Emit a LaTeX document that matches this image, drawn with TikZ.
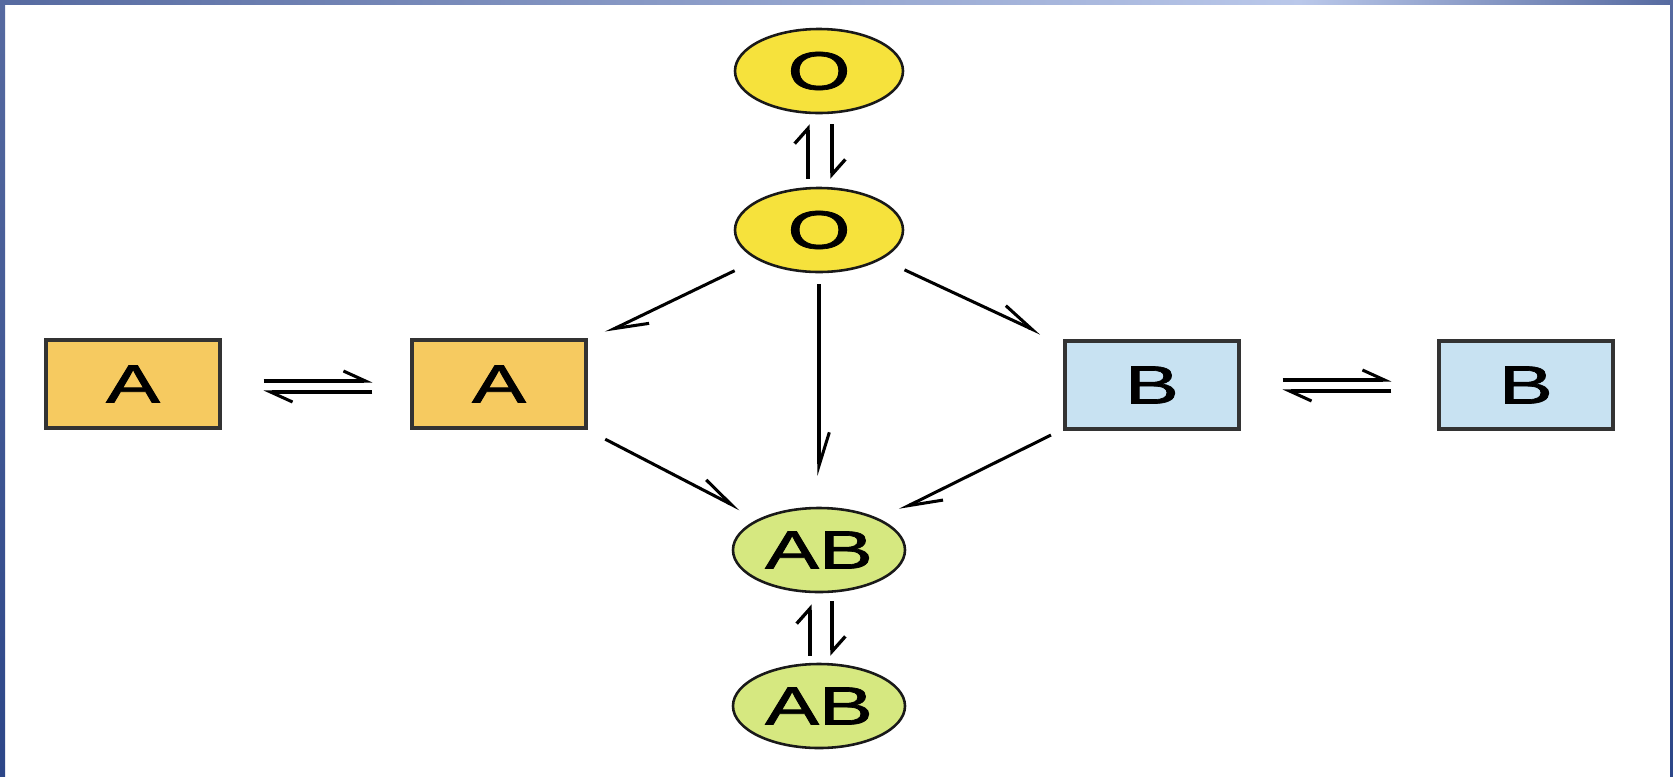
\documentclass[tikz,border=0pt]{standalone}
\usepackage{fontspec}
\setmainfont{Liberation Sans}
\newfontfamily\lblfont{Liberation Sans}[FakeBold=1.2]
\usepackage{graphicx}
\usetikzlibrary{shapes.geometric,arrows.meta}
\definecolor{oyel}{RGB}{246,226,60}
\definecolor{aorange}{RGB}{246,202,96}
\definecolor{bblue}{RGB}{200,226,242}
\definecolor{abgreen}{RGB}{214,232,128}
\definecolor{bdark}{RGB}{86,106,160}
\definecolor{bdarker}{RGB}{44,70,136}
\definecolor{blight}{RGB}{186,200,234}
\newcommand\wideTxt[1]{\scalebox{1.5}[1]{#1}}
\begin{document}
\begin{tikzpicture}[x=0.03cm,y=-0.03cm,
  ell/.style={ellipse, draw=black!90, line width=2.2pt, minimum height=2.52cm, inner sep=0pt,
              font=\lblfont\fontsize{46}{48}\selectfont},
  box/.style={rectangle, draw=black!80, line width=2.6pt, minimum width=5.22cm, minimum height=2.64cm,
              inner sep=0pt, font=\lblfont\fontsize{46}{48}\selectfont},
  arr/.style={line width=2.6pt, -{Straight Barb[harpoon, length=1cm, width=0.62cm]}},
  eqv/.style={line width=2.8pt, -{Straight Barb[harpoon, length=0.45cm, width=0.8cm]}},
  eqh/.style={line width=2.6pt, -{Straight Barb[harpoon, length=0.66cm, width=0.6cm]}}
]
\useasboundingbox (0,0) rectangle (1673,776);
\fill[white] (0,0) rectangle (1673,776);
% frame
\shade[top color=bdark, bottom color=bdarker] (0,0) rectangle (5,776);
\shade[top color=bdark, bottom color=bdarker] (1670,0) rectangle (1673,776);
\shade[left color=bdark, right color=blight] (0,0) rectangle (1300,4);
\shade[left color=blight, right color=bdark] (1300,0) rectangle (1673,4);

% nodes
\node[ell, fill=oyel, minimum width=5.04cm] (O1) at (819,71) {\wideTxt{O}};
\node[ell, fill=oyel, minimum width=5.04cm] (O2) at (819,230) {\wideTxt{O}};
\node[ell, fill=abgreen, minimum width=5.16cm] (AB1) at (819,550) {\wideTxt{AB}};
\node[ell, fill=abgreen, minimum width=5.16cm] (AB2) at (819,706) {\wideTxt{AB}};
\node[box, fill=aorange] (A1) at (133,384) {\wideTxt{A}};
\node[box, fill=aorange] (A2) at (499,384) {\wideTxt{A}};
\node[box, fill=bblue] (B1) at (1152,385) {\wideTxt{B}};
\node[box, fill=bblue] (B2) at (1526,385) {\wideTxt{B}};

% reaction arrows
\draw[arr, shorten <=0.75cm, shorten >=0.6cm] (O2) -- (A2);
\draw[arr, shorten <=0.75cm, shorten >=0.75cm] (O2) -- (B1);
\draw[arr, shorten <=0.33cm, shorten >=0.93cm] (O2) -- (AB1);
\draw[arr, shorten <=0.63cm, shorten >=0.63cm] (A2) -- (AB1);
\draw[arr, shorten <=0.42cm, shorten >=0.63cm] (B1) -- (AB1);

% equilibria, vertical
\draw[eqv, shorten <=0.24cm, shorten >=0.3cm] ([xshift=-0.33cm]O2.north) -- ([xshift=-0.33cm]O1.south);
\draw[eqv, shorten <=0.3cm, shorten >=0.24cm] ([xshift=0.39cm]O1.south) -- ([xshift=0.39cm]O2.north);
\draw[eqv, shorten <=0.21cm, shorten >=0.33cm] ([xshift=-0.27cm]AB2.north) -- ([xshift=-0.27cm]AB1.south);
\draw[eqv, shorten <=0.24cm, shorten >=0.21cm] ([xshift=0.39cm]AB1.south) -- ([xshift=0.39cm]AB2.north);

% equilibria, horizontal
\draw[eqh, shorten <=1.26cm, shorten >=1.14cm] ([yshift=0.09cm]A1.east) -- ([yshift=0.09cm]A2.west);
\draw[eqh, shorten <=1.14cm, shorten >=1.26cm] ([yshift=-0.24cm]A2.west) -- ([yshift=-0.24cm]A1.east);
\draw[eqh, shorten <=1.26cm, shorten >=1.38cm] ([yshift=0.15cm]B1.east) -- ([yshift=0.15cm]B2.west);
\draw[eqh, shorten <=1.38cm, shorten >=1.26cm] ([yshift=-0.18cm]B2.west) -- ([yshift=-0.18cm]B1.east);
\end{tikzpicture}
\end{document}
